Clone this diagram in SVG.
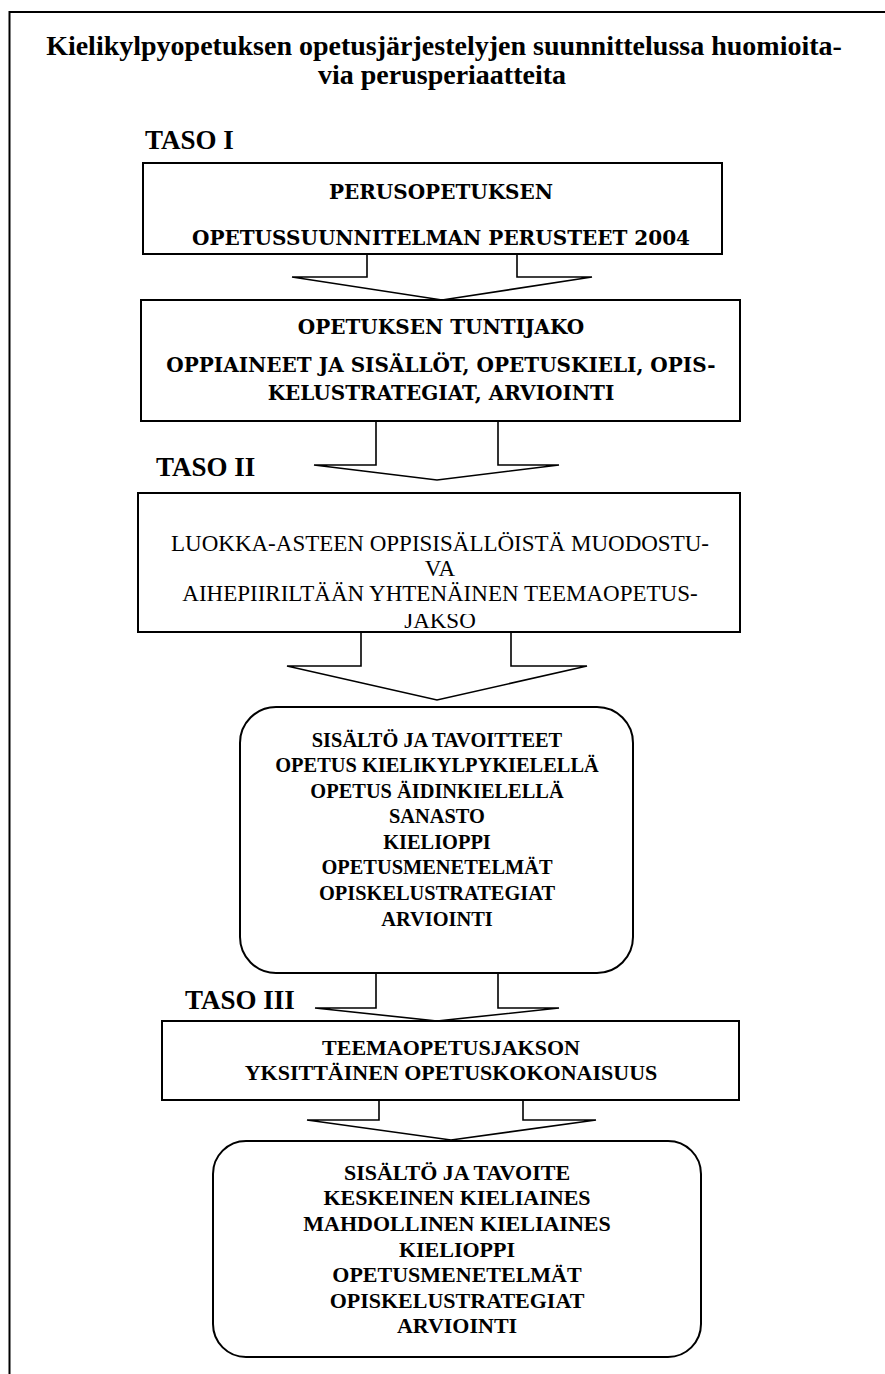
<svg xmlns="http://www.w3.org/2000/svg" width="885" height="1374" viewBox="0 0 885 1374">
  <style>
    .frame { fill: none; stroke: #000; stroke-width: 2; }
    .box { fill: #fff; stroke: #000; stroke-width: 2; }
    .arrow { fill: #fff; stroke: #000; stroke-width: 1.6; stroke-linejoin: miter; }
    .title { font-family: "Liberation Serif", "Times New Roman", serif; font-weight: bold; font-size: 28px; text-anchor: middle; fill: #000; }
    .level { font-family: "Liberation Serif", "Times New Roman", serif; font-weight: bold; font-size: 27px; fill: #000; }
    .wide { font-family: "DejaVu Serif", serif; font-weight: bold; font-size: 20px; text-anchor: middle; fill: #000; }
    .plain { font-family: "Liberation Serif", "Times New Roman", serif; font-size: 23px; text-anchor: middle; fill: #000; }
    .list { font-family: "Liberation Serif", "Times New Roman", serif; font-weight: bold; font-size: 20.4px; text-anchor: middle; fill: #000; }
    .list2 { font-family: "Liberation Serif", "Times New Roman", serif; font-weight: bold; font-size: 22px; text-anchor: middle; fill: #000; }
  </style>

  <defs>
    <!-- the last line of the theme box overflows its text frame and loses its top edge -->
    <clipPath id="lastLineClip">
      <rect x="138" y="614" width="602" height="18"/>
    </clipPath>
  </defs>

  <rect width="885" height="1374" fill="#fff"/>

  <!-- page frame (open to the right and bottom) -->
  <path class="frame" d="M9.5,1374 V12 H885"/>

  <!-- heading -->
  <g id="title">
    <text class="title" x="444" y="55">Kielikylpyopetuksen opetusjärjestelyjen suunnittelussa huomioita-</text>
    <text class="title" x="442" y="84">via perusperiaatteita</text>
  </g>

  <!-- level labels -->
  <g id="taso1"><text class="level" x="145" y="149">TASO I</text></g>
  <g id="taso2"><text class="level" x="156" y="476">TASO II</text></g>
  <g id="taso3"><text class="level" x="185" y="1009">TASO III</text></g>

  <!-- block arrows between the levels -->
  <g id="connectors">
    <polyline class="arrow" points="367,254 367,277 292,277 442,300 592,277 517,277 517,254"/>
    <polyline class="arrow" points="376,421 376,465 314,465 437,480 559,465 498,465 498,421"/>
    <polyline class="arrow" points="361,632 361,666 287,666 437,700 587,666 511,666 511,632"/>
    <polyline class="arrow" points="376,973 376,1008 315,1008 437,1021 559,1008 498,1008 498,973"/>
    <polyline class="arrow" points="379,1100 379,1120 307,1120 451,1140 596,1120 523,1120 523,1100"/>
  </g>

  <g id="perusteet">
    <rect class="box" x="143" y="163" width="579" height="91"/>
    <text class="wide" x="441" y="199">PERUSOPETUKSEN</text>
    <text class="wide" x="441" y="245">OPETUSSUUNNITELMAN PERUSTEET 2004</text>
  </g>

  <g id="tuntijako">
    <rect class="box" x="141" y="300" width="599" height="121"/>
    <text class="wide" x="441" y="334">OPETUKSEN TUNTIJAKO</text>
    <text class="wide" x="441" y="372">OPPIAINEET JA SISÄLLÖT, OPETUSKIELI, OPIS-</text>
    <text class="wide" x="441" y="400">KELUSTRATEGIAT, ARVIOINTI</text>
  </g>

  <g id="teemaopetusjakso">
    <rect class="box" x="138" y="493" width="602" height="139"/>
    <text class="plain" x="440" y="551">LUOKKA-ASTEEN OPPISISÄLLÖISTÄ MUODOSTU-</text>
    <text class="plain" x="440" y="576">VA</text>
    <text class="plain" x="440" y="601">AIHEPIIRILTÄÄN YHTENÄINEN TEEMAOPETUS-</text>
    <text class="plain" x="440" y="628" clip-path="url(#lastLineClip)">JAKSO</text>
  </g>

  <g id="sisalto-jakso">
    <rect class="box" x="240" y="707" width="393" height="266" rx="36" ry="36"/>
    <text class="list" x="437" y="747">SISÄLTÖ JA TAVOITTEET</text>
    <text class="list" x="437" y="772">OPETUS KIELIKYLPYKIELELLÄ</text>
    <text class="list" x="437" y="798">OPETUS ÄIDINKIELELLÄ</text>
    <text class="list" x="437" y="823">SANASTO</text>
    <text class="list" x="437" y="849">KIELIOPPI</text>
    <text class="list" x="437" y="874">OPETUSMENETELMÄT</text>
    <text class="list" x="437" y="900">OPISKELUSTRATEGIAT</text>
    <text class="list" x="437" y="926">ARVIOINTI</text>
  </g>

  <g id="opetuskokonaisuus">
    <rect class="box" x="162" y="1021" width="577" height="79"/>
    <text class="list2" x="451" y="1055">TEEMAOPETUSJAKSON</text>
    <text class="list2" x="451" y="1080">YKSITTÄINEN OPETUSKOKONAISUUS</text>
  </g>

  <g id="sisalto-kokonaisuus">
    <rect class="box" x="213" y="1141" width="488" height="216" rx="33" ry="33"/>
    <text class="list2" x="457" y="1180">SISÄLTÖ JA TAVOITE</text>
    <text class="list2" x="457" y="1205">KESKEINEN KIELIAINES</text>
    <text class="list2" x="457" y="1231">MAHDOLLINEN KIELIAINES</text>
    <text class="list2" x="457" y="1257">KIELIOPPI</text>
    <text class="list2" x="457" y="1282">OPETUSMENETELMÄT</text>
    <text class="list2" x="457" y="1308">OPISKELUSTRATEGIAT</text>
    <text class="list2" x="457" y="1333">ARVIOINTI</text>
  </g>
</svg>
